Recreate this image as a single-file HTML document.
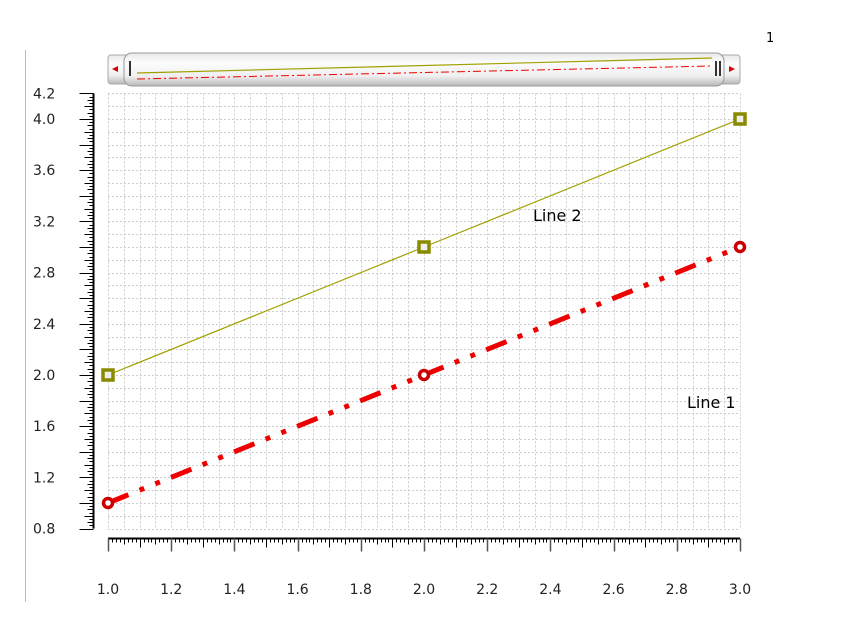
<!DOCTYPE html>
<html><head><meta charset="utf-8"><style>
body{margin:0;background:#fff;}
svg text{font-family:"DejaVu Sans","Liberation Sans",sans-serif;}
</style></head><body>
<svg id="chart" width="857" height="615" xmlns="http://www.w3.org/2000/svg">
<defs>
<linearGradient id="sb" x1="0" y1="0" x2="0" y2="1">
<stop offset="0" stop-color="#e8e8e8"/><stop offset="0.3" stop-color="#fdfdfd"/><stop offset="0.7" stop-color="#f0f0f0"/><stop offset="1" stop-color="#b8b8b8"/>
</linearGradient>
</defs>
<line x1="25.5" y1="50" x2="25.5" y2="602" stroke="#bbb"/>
<text x="766" y="42" font-size="13" font-family="Liberation Serif,serif">1</text>
<g id="scroll">
<rect x="108" y="55" width="632" height="29" rx="3" fill="url(#sb)" stroke="#aaa"/>
<rect x="124" y="53" width="600" height="33" rx="8" fill="url(#sb)" stroke="#999"/>
<polygon points="112,69 118,66 118,72" fill="#d00"/>
<polygon points="735,69 729,66 729,72" fill="#d00"/>
<rect x="129" y="61" width="2" height="15" fill="#333"/>
<rect x="715" y="61" width="2" height="15" fill="#333"/>
<rect x="719" y="61" width="2" height="15" fill="#333"/>
<line x1="137" y1="73" x2="712" y2="58" stroke="#a0a000" stroke-width="1.2"/>
<line x1="137" y1="79" x2="712" y2="66" stroke="#e00" stroke-width="1" stroke-dasharray="8 3 2 3"/>
</g>
<g id="grid"></g><g id="axes"></g><g id="series"></g>
<text x="533" y="221" font-size="16" font-family="Liberation Sans,sans-serif">Line 2</text>
<text x="687" y="408" font-size="16" font-family="Liberation Sans,sans-serif">Line 1</text>
</svg>
<script>
const xValues=[1,2,3];
const line1=[1,2,3];
const line2=[2,3,4];
const xTicks=["1.0","1.2","1.4","1.6","1.8","2.0","2.2","2.4","2.6","2.8","3.0"];
const yTicks=["0.8","1.2","1.6","2.0","2.4","2.8","3.2","3.6","4.0","4.2"];
const NS="http://www.w3.org/2000/svg";
const X0=108,X1=740,Y0=528.6,Y1=93.4,xmin=1,xmax=3,ymin=0.8,ymax=4.2;
const sx=v=>X0+(v-xmin)/(xmax-xmin)*(X1-X0);
const sy=v=>Y0-(v-ymin)/(ymax-ymin)*(Y0-Y1);
function mk(t,a,p){const e=document.createElementNS(NS,t);for(const k in a)e.setAttribute(k,a[k]);p.appendChild(e);return e;}
const grid=document.getElementById('grid'),axes=document.getElementById('axes'),ser=document.getElementById('series');
for(let i=0;i<=40;i++){const x=Math.round(sx(xmin+i*0.05))+0.5;
const l=mk('line',{x1:x,y1:Y1,x2:x,y2:Y0,stroke:'#ccc','stroke-dasharray':'2 2'},grid);
}
for(let i=0;i<=34;i++){const y=Math.round(sy(ymin+i*0.1))+0.5;
const l=mk('line',{x1:X0,y1:y,x2:X1,y2:y,stroke:'#ccc','stroke-dasharray':'2 2'},grid);
}
// y axis ruler
mk('line',{x1:93.5,y1:Y1,x2:93.5,y2:Y0,stroke:'#000','stroke-width':2},axes);
for(let i=0;i<=136;i++){const y=Math.round(sy(ymin+i*0.025))+0.5;const len=i%8==0?14:(i%4==0?9:(i%2==0?6:4));
mk('line',{x1:93.5-len,y1:y,x2:93.5,y2:y,stroke:'#000'},axes);}
yTicks.forEach(t=>{const tx=mk('text',{x:33,y:sy(+t)+5,'font-size':14,fill:'#222'},axes);tx.textContent=t;
});
// x axis ruler
mk('line',{x1:X0,y1:538.5,x2:X1,y2:538.5,stroke:'#000','stroke-width':2},axes);
for(let i=0;i<=160;i++){const x=Math.round(sx(xmin+i*0.0125))+0.5;const len=i%16==0?13:(i%8==0?9:(i%4==0?6:4));
mk('line',{x1:x,y1:538.5,x2:x,y2:538.5+len,stroke:i%16==0?'#555':'#000','stroke-width':i%16==0?1.5:1},axes);}
xTicks.forEach(t=>{const tx=mk('text',{x:sx(+t),y:594,'font-size':14,fill:'#222','text-anchor':'middle'},axes);tx.textContent=t;
});
// line 2
const p2=mk('polyline',{points:xValues.map((v,i)=>sx(v)+','+sy(line2[i])).join(' '),fill:'none',stroke:'#a0a000','stroke-width':1.2},ser);

xValues.forEach((v,i)=>{const r=mk('rect',{x:sx(v)-5,y:sy(line2[i])-5,width:10,height:10,fill:'#eee',stroke:'#8a8a00','stroke-width':3.5},ser);
});
// line 1
const p1=mk('polyline',{points:xValues.map((v,i)=>sx(v)+','+sy(line1[i])).join(' '),fill:'none',stroke:'#e00','stroke-width':5,'stroke-dasharray':'22 12 5 12 5 12'},ser);

xValues.forEach((v,i)=>{const c=mk('circle',{cx:sx(v),cy:sy(line1[i]),r:4.5,fill:'#fff',stroke:'#c00','stroke-width':3.5},ser);
});
</script>
</body></html>
